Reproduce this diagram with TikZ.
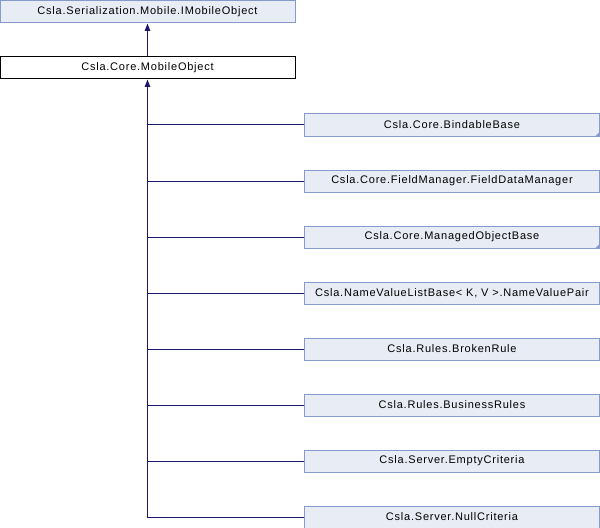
\documentclass[tikz,border=0pt]{standalone}
\usepackage{fontspec}
\setmainfont{Liberation Sans}
\newfontfamily\dxfont[LetterSpace=7]{Liberation Sans}
\usetikzlibrary{arrows.meta}
\definecolor{boxfill}{RGB}{232,236,244}
\definecolor{boxline}{RGB}{132,155,203}
\definecolor{linkc}{RGB}{25,25,112}
\definecolor{cornerc}{RGB}{132,155,203}
\begin{document}
\begin{tikzpicture}[x=0.75pt,y=-0.75pt,
  cls/.style={draw=boxline,fill=boxfill,line width=0.75pt,minimum height=16.5pt,inner sep=0pt,anchor=center,font=\dxfont\fontsize{8.25pt}{9pt}\selectfont},
  wide/.style={cls,minimum width=221.25pt},
  cur/.style={wide,draw=black,fill=white},
  link/.style={draw=linkc,line width=0.75pt},
  tri/.style={-{Triangle[length=5.5pt,width=4pt]}}]
\useasboundingbox (0,0) rectangle (600,528);
\node[wide] (imo) at (147.5,12) {Csla.Serialization.Mobile.IMobileObject};
\node[cur] (mo) at (147.5,68) {Csla.Core.MobileObject};
\node[wide] (c1) at (452,125) {Csla.Core.BindableBase};
\node[wide] (c2) at (452,181) {Csla.Core.FieldManager.FieldDataManager};
\node[wide] (c3) at (452,237) {Csla.Core.ManagedObjectBase};
\node[wide] (c4) at (452,293) {Csla.NameValueListBase< K, V >.NameValuePair};
\node[wide] (c5) at (452,349) {Csla.Rules.BrokenRule};
\node[wide] (c6) at (452,405) {Csla.Rules.BusinessRules};
\node[wide] (c7) at (452,461) {Csla.Server.EmptyCriteria};
\node[wide] (c8) at (452,517) {Csla.Server.NullCriteria};
\fill[cornerc] (c1.south east) -- ++(-5,0) -- ++(5,-5) -- cycle;
\fill[cornerc] (c3.south east) -- ++(-5,0) -- ++(5,-5) -- cycle;
\draw[link,tri] (mo.north) -- (imo.south);
\draw[link,tri] (c8.west) -| (mo.south);
\foreach \c in {c1,c2,c3,c4,c5,c6,c7}{
  \draw[link] (\c.west) -- (\c.west -| mo.south);
}
\end{tikzpicture}
\end{document}
